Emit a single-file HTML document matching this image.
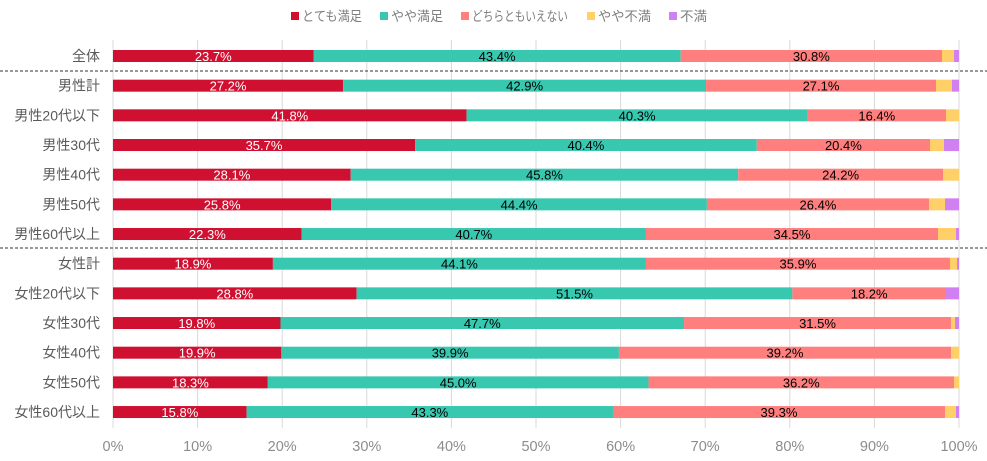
<!DOCTYPE html>
<html><head><meta charset="utf-8"><style>
html,body{margin:0;padding:0;background:#fff;}
svg{display:block;font-family:"Liberation Sans","Noto Sans CJK JP",sans-serif;}
</style></head><body>
<svg id="c" width="987" height="461" xmlns="http://www.w3.org/2000/svg"></svg>
<script>
const s=document.getElementById('c');
let h='';
const X0=113,W=846;
for(let i=0;i<=10;i++){const x=X0+W*i/10;h+=`<line x1="${x}" y1="40" x2="${x}" y2="428" stroke="#d9d9d9" stroke-width="1"/>`;
h+=`<text x="${x}" y="451" font-size="14.5" fill="#8c8c8c" text-anchor="middle">${i*10}%</text>`;}
const rows=[
["全体",23.7,43.4,30.8,942,954],
["男性計",27.2,42.9,27.1,936,952],
["男性20代以下",41.8,40.3,16.4,946,959],
["男性30代",35.7,40.4,20.4,930,944],
["男性40代",28.1,45.8,24.2,943,959],
["男性50代",25.8,44.4,26.4,929,945],
["男性60代以上",22.3,40.7,34.5,938,956],
["女性計",18.9,44.1,35.9,950,957],
["女性20代以下",28.8,51.5,18.2,946,946],
["女性30代",19.8,47.7,31.5,951,955],
["女性40代",19.9,39.9,39.2,951,959],
["女性50代",18.3,45.0,36.2,954,959],
["女性60代以上",15.8,43.3,39.3,945,956]];
rows.forEach((r,i)=>{
 const y=50+i*29.67;
 const a=X0,b=X0+W*r[1]/100,c=b+W*r[2]/100,d=r[4],e=r[5],f=959;
 h+=`<rect x="${a}" y="${y}" width="${b-a}" height="12" fill="#d01030"/>`;
 h+=`<rect x="${b}" y="${y}" width="${c-b}" height="12" fill="#38c8b0"/>`;
 h+=`<rect x="${c}" y="${y}" width="${d-c}" height="12" fill="#ff7f7f"/>`;
 if(e>d)h+=`<rect x="${d}" y="${y}" width="${e-d}" height="12" fill="#ffd068"/>`;
 if(f>e)h+=`<rect x="${e}" y="${y}" width="${f-e}" height="12" fill="#d080f0"/>`;
 const ty=y+11;
 h+=`<text x="${(a+b)/2}" y="${ty}" font-size="13" fill="#fff" text-anchor="middle">${r[1].toFixed(1)}%</text>`;
 h+=`<text x="${(b+c)/2}" y="${ty}" font-size="13" fill="#000" text-anchor="middle">${r[2].toFixed(1)}%</text>`;
 h+=`<text x="${(c+d)/2}" y="${ty}" font-size="13" fill="#000" text-anchor="middle">${r[3].toFixed(1)}%</text>`;
 h+=`<text x="100" y="${y+11}" font-size="14" fill="#595959" text-anchor="end">${r[0]}</text>`;
});
[71,248].forEach(y=>h+=`<line x1="0" y1="${y}" x2="987" y2="${y}" stroke="#333" stroke-width="1" stroke-dasharray="3,2"/>`);
const lg=[[291,"#d01030","とても満足",60],[380,"#38c8b0","やや満足",52],[461,"#ff7f7f","どちらともいえない",96],[587,"#ffd068","やや不満",53],[669,"#d080f0","不満",27]];
lg.forEach(l=>{h+=`<rect x="${l[0]}" y="12" width="8" height="8" fill="${l[1]}"/>`;
h+=`<text x="${l[0]+11}" y="21" font-size="13.5" fill="#7f7f7f" textLength="${l[3]}" lengthAdjust="spacingAndGlyphs">${l[2]}</text>`;});
s.innerHTML=h;
</script>
</body></html>
